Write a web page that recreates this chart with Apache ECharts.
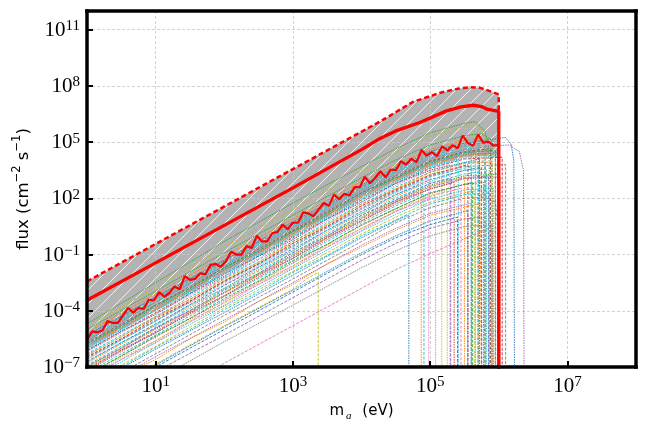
<!DOCTYPE html>
<html>
<head>
<meta charset="utf-8">
<script src="https://cdn.jsdelivr.net/npm/echarts@6/dist/echarts.min.js"></script>
<style>
  html, body { margin: 0; padding: 0; background: #fff; }
  #chart { width: 648px; height: 432px; }
</style>
</head>
<body>
<div id="chart"></div>
<script>
// every value is a log10: x = log10(m_a / eV), y = log10(flux / cm^-2 s^-1)
const xTicks = [1, 3, 5, 7];
const yTicks = [-7, -4, -1, 2, 5, 8, 11];

// dashed red upper bound (top of the hatched band)
const dashedUpper = [[0, -2.43], [4.27, 6.1], [4.75, 7.15], [5.15, 7.64], [5.4, 7.85], [5.58, 7.93],
  [5.73, 7.9], [5.85, 7.75], [6.0, 7.55], [6.0, 6.64]];
// lower edge of the hatched band
const grayLower = [[0, -6.0], [1, -4.0], [2, -2.0], [3, 0.0], [4, 2.0], [4.5, 2.9], [5, 3.7],
  [5.5, 4.2], [6.0, 4.3]];
// thick solid red curve
const solidRed = [[0, -3.44], [1, -1.44], [2, 0.56], [3, 2.56], [4, 4.6], [4.27, 5.2], [4.5, 5.6],
  [4.85, 6.05], [5.24, 6.67], [5.45, 6.88], [5.63, 6.97], [5.75, 6.9], [5.83, 6.76], [6.0, 6.64], [6.0, -9]];
// noisy red curve
const noisyRed = [
  [0, -5.55], [0.075, -5.1], [0.15, -5.15], [0.225, -5.05], [0.3, -4.55], [0.375, -4.65], [0.45, -4.65],
  [0.525, -4.25], [0.6, -3.85], [0.675, -4.1], [0.75, -3.85], [0.825, -3.9], [0.9, -3.4], [0.975, -3.45],
  [1.05, -3.0], [1.125, -3.25], [1.2, -3.05], [1.275, -2.7], [1.35, -2.85], [1.425, -2.15], [1.5, -2.35],
  [1.575, -2.3], [1.65, -2.0], [1.725, -2.05], [1.8, -1.55], [1.875, -1.5], [1.95, -1.65], [2.025, -1.35],
  [2.1, -0.85], [2.175, -1.0], [2.25, -1.0], [2.325, -0.55], [2.4, -0.65], [2.475, 0.0], [2.55, -0.3],
  [2.625, -0.3], [2.7, 0.15], [2.775, 0.2], [2.85, 0.6], [2.925, 0.35], [3.0, 0.7], [3.075, 0.7],
  [3.15, 1.25], [3.225, 1.2], [3.3, 1.05], [3.375, 1.4], [3.45, 1.75], [3.525, 1.6], [3.6, 2.2],
  [3.675, 1.95], [3.75, 2.25], [3.825, 2.15], [3.9, 2.6], [3.975, 2.6], [4.05, 3.15], [4.125, 2.8],
  [4.2, 3.1], [4.275, 3.45], [4.35, 3.12], [4.425, 3.54], [4.5, 3.5], [4.575, 3.98], [4.65, 3.8],
  [4.725, 4.12], [4.8, 3.93], [4.875, 4.58], [4.95, 4.28], [5.025, 4.47], [5.1, 4.25], [5.175, 4.78],
  [5.25, 4.56], [5.325, 4.84], [5.4, 4.67], [5.475, 5.35], [5.55, 4.96], [5.625, 4.8], [5.7, 5.4],
  [5.775, 4.97], [5.85, 5.03], [5.925, 4.82], [6.0, 4.85], [6.0, -9]];

// thin ensemble curves
const thinColors = ['#2ca02c', '#bcbd22', '#2ca02c', '#ff7f0e', '#1f77b4', '#17becf', '#9467bd', '#8c564b',
  '#17becf', '#ff7f0e', '#17becf', '#d62728', '#e377c2', '#17becf', '#bcbd22', '#7f7f7f', '#e377c2',
  '#1f77b4', '#ff7f0e', '#17becf', '#2ca02c', '#9467bd', '#d62728', '#17becf', '#8c564b', '#e377c2',
  '#17becf', '#bcbd22', '#1f77b4', '#7f7f7f', '#9467bd', '#bcbd22', '#1f77b4', '#9467bd', '#7f7f7f',
  '#e377c2', '#17becf', '#17becf', '#ff7f0e', '#7f7f7f',
  '#17becf', '#2ca02c', '#1f77b4', '#ff7f0e', '#17becf', '#9467bd', '#8c564b', '#2ca02c', '#e377c2',
  '#17becf', '#ff7f0e', '#1f77b4', '#7f7f7f', '#d62728', '#bcbd22'];
const thinLines = [
  [[0, -4.7], [1, -2.5], [2, -0.3], [3, 1.75], [4, 3.7], [4.5, 4.65], [5, 5.5], [5.5, 6.0], [5.65, 6.1], [5.8, 5.6], [5.86, 4.6], [5.86, -9]],
  [[0, -4.85], [1, -2.75], [2, -0.6], [3, 1.4], [4, 3.45], [4.5, 4.45], [5, 5.3], [5.5, 5.85], [5.62, 6.0], [5.75, 5.7], [5.8, 4.8], [5.8, -9]],
  [[0, -5.0], [1, -2.95], [2, -0.9], [3, 1.1], [4, 3.1], [4.5, 4.05], [5, 4.85], [5.5, 5.35], [5.75, 5.45], [5.9, 5.1], [5.92, -9]],
  [[0, -5.15], [1, -3.1], [2, -1.1], [3, 0.9], [4, 2.9], [4.5, 3.8], [5, 4.6], [5.5, 5.1], [5.72, 5.2], [5.75, -9]],
  [[0, -5.3], [1, -3.25], [2, -1.3], [3, 0.75], [4, 2.7], [4.5, 3.65], [5, 4.5], [5.5, 4.95], [5.9, 5.15], [6.1, 5.25], [6.18, 4.9], [6.22, 4.0], [6.23, -9]],
  [[0, -5.45], [1, -3.4], [2, -1.45], [3, 0.55], [4, 2.55], [4.5, 3.45], [5, 4.25], [5.5, 4.75], [5.7, 4.85], [5.7, -9]],
  [[0, -5.6], [1, -3.55], [2, -1.6], [3, 0.4], [4, 2.4], [4.5, 3.3], [5, 4.1], [5.5, 4.6], [5.9, 4.8], [6.15, 4.85], [6.3, 4.5], [6.36, 3.5], [6.37, -9]],
  [[0, -5.7], [1, -3.7], [2, -1.7], [3, 0.3], [4, 2.3], [4.5, 3.2], [5, 4.0], [5.5, 4.5], [5.88, 4.65], [5.88, -9]],
  [[0, -5.8], [1, -3.75], [2, -1.8], [3, 0.2], [4, 2.2], [4.5, 3.1], [5, 3.9], [5.5, 4.4], [5.66, 4.5], [5.66, -9]],
  [[0, -5.9], [1, -3.9], [2, -1.85], [3, 0.1], [4, 2.1], [4.5, 3.0], [5, 3.8], [5.5, 4.3], [5.95, 4.4], [5.95, -9]],
  [[0, -6.0], [1, -3.95], [2, -2.0], [3, 0.0], [4, 2.0], [4.5, 2.9], [5, 3.7], [5.41, 4.1], [5.41, -9]],
  [[0, -6.1], [1, -4.1], [2, -2.05], [3, -0.1], [4, 1.9], [4.5, 2.8], [5, 3.6], [5.5, 4.1], [6.05, 4.2], [6.05, -9]],
  [[0, -6.2], [1, -4.15], [2, -2.2], [3, -0.2], [4, 1.8], [4.5, 2.7], [5, 3.5], [5.29, 3.8], [5.29, -9]],
  [[0, -6.3], [1, -4.3], [2, -2.25], [3, -0.3], [4, 1.7], [4.5, 2.6], [5, 3.4], [5.5, 3.9], [5.8, 4.0], [5.8, -9]],
  [[0, -6.4], [1, -4.35], [2, -2.4], [3, -0.4], [4, 1.6], [4.5, 2.5], [5, 3.3], [5.17, 3.45], [5.17, -9]],
  [[0, -6.5], [1, -4.5], [2, -2.45], [3, -0.5], [4, 1.5], [4.5, 2.4], [5, 3.2], [5.5, 3.7], [6.1, 3.8], [6.1, -9]],
  [[0, -6.6], [1, -4.55], [2, -2.6], [3, -0.6], [4, 1.4], [4.5, 2.3], [4.98, 3.05], [4.98, -9]],
  [[0, -6.7], [1, -4.7], [2, -2.65], [3, -0.7], [4, 1.3], [4.5, 2.2], [5, 3.0], [5.5, 3.5], [5.75, 3.65], [5.75, -9]],
  [[0, -6.8], [1, -4.75], [2, -2.8], [3, -0.8], [4, 1.2], [4.5, 2.1], [4.87, 2.7], [4.87, -9]],
  [[0, -6.9], [1, -4.9], [2, -2.85], [3, -0.9], [4, 1.1], [4.5, 2.0], [5, 2.8], [5.5, 3.3], [5.7, 3.4], [5.7, -9]],
  [[0, -7.0], [1, -4.95], [2, -3.0], [3, -1.0], [4, 1.0], [4.5, 1.9], [5, 2.7], [5.5, 3.2], [6.0, 3.3], [6.0, -9]],
  [[0, -7.1], [1, -5.1], [2, -3.05], [3, -1.1], [4, 0.9], [4.5, 1.8], [5, 2.6], [5.5, 3.1], [5.85, 3.2], [5.85, -9]],
  [[0, -7.2], [1, -5.15], [2, -3.2], [3, -1.2], [4, 0.8], [4.5, 1.7], [5, 2.5], [5.35, 2.85], [5.35, -9]],
  [[0, -7.3], [1, -5.3], [2, -3.25], [3, -1.3], [4, 0.7], [4.5, 1.6], [4.91, 2.25], [4.91, -9]],
  [[0, -7.45], [1, -5.4], [2, -3.45], [3, -1.45], [4, 0.55], [4.5, 1.45], [5, 2.25], [5.5, 2.75], [5.78, 2.85], [5.78, -9]],
  [[0, -7.6], [1, -5.6], [2, -3.55], [3, -1.6], [4, 0.4], [4.5, 1.3], [5, 2.1], [5.45, 2.55], [5.45, -9]],
  [[0, -7.75], [1, -5.7], [2, -3.75], [3, -1.75], [4, 0.25], [4.5, 1.15], [5, 1.95], [5.5, 2.45], [5.92, 2.55], [5.92, -9]],
  [[0, -7.9], [1, -5.9], [2, -3.85], [3, -1.9], [4, 0.1], [4.5, 1.0], [5, 1.8], [5.5, 2.3], [5.65, 2.4], [5.65, -9]],
  [[0, -8.1], [1, -6.05], [2, -4.1], [3, -2.1], [4, -0.1], [4.5, 0.8], [4.69, 1.1], [4.69, -9]],
  [[0, -8.3], [1, -6.3], [2, -4.25], [3, -2.3], [4, -0.3], [4.5, 0.7], [5, 1.5], [5.48, 2.0], [5.8, 2.05], [5.95, 1.8], [5.98, 0.8], [5.98, -9]],
  [[0, -8.5], [1, -6.45], [2, -4.5], [3, -2.5], [4, -0.5], [4.5, 0.4], [5, 1.2], [5.6, 1.75], [5.6, -9]],
  [[0, -8.9], [1, -6.85], [2, -4.8], [3, -2.85], [3.2, -2.3], [3.37, -1.95], [3.37, -9]],
  [[0, -8.9], [1, -6.9], [2, -4.85], [3, -2.9], [4, -0.9], [4.5, 0.0], [5, 0.8], [5.55, 1.35], [5.55, -9]],
  [[0, -9.3], [1, -7.25], [2, -5.3], [3, -3.3], [4, -1.3], [4.5, -0.4], [5, 0.4], [5.5, 0.9], [5.75, 1.0], [5.75, -9]],
  [[0, -9.7], [1, -7.7], [2, -5.65], [3, -3.7], [4, -1.7], [4.5, -0.8], [5, 0.0], [5.5, 0.5], [5.9, 0.6], [5.9, -9]],
  [[0, -10.8], [1, -8.8], [2, -6.8], [3, -4.8], [4, -2.8], [4.5, -1.8], [5, -0.95], [5.5, -0.15], [5.88, 0.45], [5.9, 0.2], [5.9, -9]],
  [[0, -6.05], [1, -4.0], [2, -2.05], [3, -0.05], [4, 1.95], [4.5, 2.85], [5, 3.65], [5.5, 4.15], [6.0, 4.25], [6.0, -9]],
  [[0, -6.55], [1, -4.55], [2, -2.5], [3, -0.55], [4, 1.45], [4.5, 2.35], [5, 3.15], [5.6, 3.7], [5.6, -9]],
  [[0, -7.05], [1, -5.0], [2, -3.05], [3, -1.05], [4, 0.95], [4.5, 1.85], [5, 2.65], [5.5, 3.15], [5.5, -9]],
  [[0, -5.35], [1, -3.3], [2, -1.35], [3, 0.65], [4, 2.6], [4.5, 3.55], [5, 4.35], [5.5, 4.85], [5.8, 4.95], [5.8, -9]],
  [[0, -5.55], [0.5, -4.5], [1, -3.55], [1.5, -2.5], [2, -1.6], [2.5, -0.5], [3, 0.45], [3.5, 1.5], [4, 2.45], [4.5, 3.4], [5, 4.15], [5.6, 4.7], [5.6, -9]],
  [[0, -5.75], [0.5, -4.8], [1, -3.7], [1.5, -2.8], [2, -1.7], [2.5, -0.8], [3, 0.25], [3.5, 1.2], [4, 2.3], [4.5, 3.1], [5, 3.95], [5.5, 4.45], [5.95, 4.55], [5.95, -9]],
  [[0, -6.15], [0.5, -5.1], [1, -4.2], [1.5, -3.1], [2, -2.15], [2.5, -1.1], [3, -0.2], [3.5, 0.9], [4, 1.8], [4.5, 2.8], [5, 3.5], [5.72, 4.1], [5.72, -9]],
  [[0, -6.35], [0.5, -5.4], [1, -4.3], [1.5, -3.4], [2, -2.3], [2.5, -1.4], [3, -0.3], [3.5, 0.6], [4, 1.7], [4.5, 2.5], [5, 3.4], [5.5, 3.85], [5.9, 3.95], [5.9, -9]],
  [[0, -6.75], [0.5, -5.7], [1, -4.8], [1.5, -3.7], [2, -2.8], [2.5, -1.7], [3, -0.8], [3.5, 0.3], [4, 1.2], [4.5, 2.2], [5, 2.9], [5.5, 3.5], [5.82, 3.55], [5.82, -9]],
  [[0, -6.95], [0.5, -6.0], [1, -4.9], [1.5, -4.0], [2, -2.9], [2.5, -2.0], [3, -0.9], [3.5, 0.0], [4, 1.1], [4.5, 1.9], [5, 2.8], [5.3, 3.05], [5.3, -9]],
  [[0, -7.15], [0.5, -6.1], [1, -5.2], [1.5, -4.1], [2, -3.2], [2.5, -2.1], [3, -1.2], [3.5, -0.1], [4, 0.8], [4.5, 1.8], [5, 2.5], [5.5, 3.05], [6.02, 3.15], [6.02, -9]],
  [[0, -7.4], [0.5, -6.4], [1, -5.35], [1.5, -4.4], [2, -3.35], [2.5, -2.4], [3, -1.35], [3.5, -0.45], [4, 0.6], [4.5, 1.45], [5, 2.3], [5.62, 2.85], [5.62, -9]],
  [[0, -7.7], [0.5, -6.6], [1, -5.7], [1.5, -4.6], [2, -3.7], [2.5, -2.6], [3, -1.7], [3.5, -0.6], [4, 0.3], [4.5, 1.3], [5.08, 2.1], [5.08, -9]],
  [[0, -8.0], [0.5, -7.0], [1, -5.95], [1.5, -5.0], [2, -3.95], [2.5, -3.0], [3, -1.95], [3.5, -1.05], [4, 0.0], [4.5, 0.85], [5, 1.7], [5.5, 2.2], [5.86, 2.3], [5.86, -9]],
  [[0, -8.6], [0.5, -7.5], [1, -6.6], [1.5, -5.5], [2, -4.6], [2.5, -3.5], [3, -2.6], [3.5, -1.5], [4, -0.6], [4.5, 0.3], [5, 1.1], [5.7, 1.7], [5.7, -9]],
  [[0, -9.0], [1, -7.0], [2, -5.0], [3, -3.0], [4, -1.0], [4.5, -0.1], [5, 0.6], [5.4, 1.0], [5.4, -9]],
  [[0, -5.85], [0.5, -4.85], [1, -3.8], [1.5, -2.9], [2, -1.8], [2.5, -0.9], [3, 0.2], [3.5, 1.1], [4, 2.2], [4.5, 3.05], [5, 3.85], [5.5, 4.35], [6.0, 4.45], [6.0, -9]],
  [[0, -6.45], [0.5, -5.5], [1, -4.4], [1.5, -3.5], [2, -2.4], [2.5, -1.5], [3, -0.4], [3.5, 0.5], [4, 1.6], [4.5, 2.45], [5, 3.25], [5.55, 3.8], [5.55, -9]],
  [[0, -7.55], [0.5, -6.5], [1, -5.6], [1.5, -4.5], [2, -3.6], [2.5, -2.5], [3, -1.6], [3.5, -0.5], [4, 0.4], [4.5, 1.35], [5, 2.15], [5.25, 2.4], [5.25, -9]]
];

// grey fill with white "/" hatching
function makeHatch() {
  const c = document.createElement('canvas');
  c.width = 14; c.height = 14;
  const g = c.getContext('2d');
  g.fillStyle = '#b3b3b3';
  g.fillRect(0, 0, 14, 14);
  g.strokeStyle = 'rgba(255,255,255,0.8)';
  g.lineWidth = 1;
  g.beginPath();
  g.moveTo(-1, 15); g.lineTo(15, -1);
  g.moveTo(-1, 1); g.lineTo(1, -1);
  g.moveTo(13, 15); g.lineTo(15, 13);
  g.stroke();
  return c;
}
const hatch = makeHatch();

function sup(v) {
  return v < 0 ? '\u2212' + (-v) : String(v);
}
function tickLabel(v) {
  return '{b|10}{s|' + sup(Math.round(v)) + '}';
}
const tickRich = {
  b: { fontFamily: 'Liberation Serif', fontSize: 21, lineHeight: 22, verticalAlign: 'bottom', color: '#000' },
  s: { fontFamily: 'Liberation Serif', fontSize: 15, lineHeight: 14, verticalAlign: 'top', color: '#000' }
};
const gridLine = { show: true, lineStyle: { color: '#c8c8c8', type: [3, 2], width: 0.8 } };
const frameLine = { show: true, onZero: false, lineStyle: { color: '#000', width: 3.5, cap: 'square' } };

const chart = echarts.init(document.getElementById('chart'), null, { renderer: 'canvas' });

const series = [];
series.push({
  type: 'custom', xAxisIndex: 0, yAxisIndex: 0, z: -1, silent: true, clip: true,
  data: [[0, 0]],
  renderItem: function (params, api) {
    const pts = dashedUpper.map(p => api.coord(p))
      .concat(grayLower.slice().reverse().map(p => api.coord(p)));
    return { type: 'polygon', shape: { points: pts }, style: { fill: { image: hatch, repeat: 'repeat' }, stroke: null } };
  }
});
thinLines.forEach(function (line, i) {
  series.push({
    type: 'line', xAxisIndex: 0, yAxisIndex: 0, data: line, symbol: 'none', silent: true, z: 3,
    lineStyle: { color: thinColors[i], width: 1.0, opacity: 0.9, type: i % 2 ? [3, 1.5] : [1.5, 1] }
  });
});
series.push({
  type: 'line', data: noisyRed, symbol: 'none', silent: true, z: 5,
  lineStyle: { color: '#ff0000', width: 2.2 }
});
series.push({
  type: 'line', data: solidRed, symbol: 'none', silent: true, z: 6,
  lineStyle: { color: '#ff0000', width: 3.3 }
});
series.push({
  type: 'line', data: dashedUpper, symbol: 'none', silent: true, z: 6,
  lineStyle: { color: '#ff0000', width: 2.5, type: [5, 3] }
});

chart.setOption({
  animation: false,
  backgroundColor: '#fff',
  grid: { left: 87, right: 12, top: 11, bottom: 65, containLabel: false },
  xAxis: [
    { type: 'value', min: 0, max: 8, position: 'bottom',
      axisLine: { show: false }, axisTick: { show: false, customValues: xTicks },
      axisLabel: { show: false, customValues: xTicks }, splitLine: gridLine },
    { type: 'value', min: 0, max: 8, position: 'bottom', z: 10,
      axisLine: frameLine,
      axisTick: { inside: true, length: 6, customValues: xTicks, lineStyle: { color: '#000', width: 2 } },
      axisLabel: { customValues: xTicks, formatter: tickLabel, rich: tickRich, margin: 8 },
      splitLine: { show: false },
      name: '{t|m}{sub|a}{t| (eV)}', nameLocation: 'middle', nameGap: 37,
      nameTextStyle: { rich: {
        t: { fontFamily: 'DejaVu Sans', fontSize: 15, lineHeight: 18, verticalAlign: 'top', color: '#000' },
        sub: { fontFamily: 'Liberation Serif', fontStyle: 'italic', fontSize: 11, lineHeight: 11, verticalAlign: 'bottom', padding: [0, 6, 0, 2], color: '#000' }
      } } },
    { type: 'value', min: 0, max: 8, position: 'top', z: 10,
      axisLine: frameLine, axisTick: { show: false }, axisLabel: { show: false }, splitLine: { show: false } }
  ],
  yAxis: [
    { type: 'value', min: -7, max: 12, position: 'left',
      axisLine: { show: false }, axisTick: { show: false, customValues: yTicks },
      axisLabel: { show: false, customValues: yTicks }, splitLine: gridLine },
    { type: 'value', min: -7, max: 12, position: 'left', z: 10,
      axisLine: frameLine,
      axisTick: { inside: true, length: 6, customValues: yTicks, lineStyle: { color: '#000', width: 2 } },
      axisLabel: { customValues: yTicks, formatter: tickLabel, rich: tickRich, margin: 7 },
      splitLine: { show: false },
      name: '{t|flux (cm}{sup|\u22122}{t| s}{sup|\u22121}{t|)}', nameLocation: 'middle', nameGap: 55, nameRotate: 90,
      nameTextStyle: { rich: {
        t: { fontFamily: 'DejaVu Sans', fontSize: 16.5, lineHeight: 21, verticalAlign: 'bottom', color: '#000' },
        sup: { fontFamily: 'DejaVu Sans', fontSize: 11.5, lineHeight: 12, verticalAlign: 'top', color: '#000' }
      } } },
    { type: 'value', min: -7, max: 12, position: 'right', z: 10,
      axisLine: frameLine, axisTick: { show: false }, axisLabel: { show: false }, splitLine: { show: false } }
  ],
  series: series
});
</script>
</body>
</html>
